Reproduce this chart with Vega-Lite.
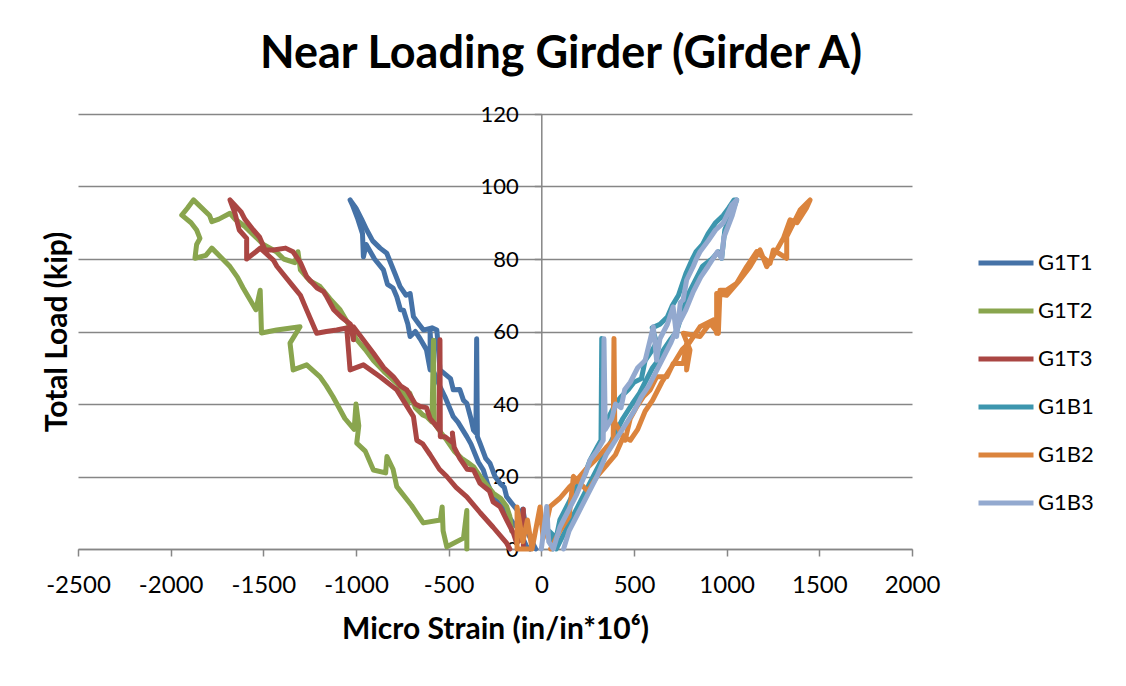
{
"$schema": "https://vega.github.io/schema/vega-lite/v6.json",
"width": 834, "height": 435,
"autosize": "none",
"padding": {"left": 78, "top": 114, "right": 214, "bottom": 137},
"background": "white",
"config": {"font": "Lato", "view": {"stroke": null}},
"title": {"text": "Near Loading Girder (Girder A)", "fontSize": 45, "fontWeight": "bold", "font": "Lato", "color": "#000", "anchor": "middle", "frame": "group", "dx": 66, "dy": 54, "offset": 44, "baseline": "alphabetic"},
"data": {"values": [
{"s":"G1T1","x":-30,"y":0},{"s":"G1T1","x":-79,"y":5},{"s":"G1T1","x":-100,"y":11},{"s":"G1T1","x":-115,"y":9.8},{"s":"G1T1","x":-150,"y":12},{"s":"G1T1","x":-187,"y":14.4},{"s":"G1T1","x":-200,"y":17},{"s":"G1T1","x":-223,"y":18.1},{"s":"G1T1","x":-250,"y":20},{"s":"G1T1","x":-277,"y":23.6},{"s":"G1T1","x":-300,"y":25},{"s":"G1T1","x":-331,"y":29.2},{"s":"G1T1","x":-345,"y":31},{"s":"G1T1","x":-349,"y":58},{"s":"G1T1","x":-353,"y":32},{"s":"G1T1","x":-366,"y":32.8},{"s":"G1T1","x":-380,"y":36},{"s":"G1T1","x":-402,"y":40.2},{"s":"G1T1","x":-420,"y":41},{"s":"G1T1","x":-440,"y":44},{"s":"G1T1","x":-475,"y":43.9},{"s":"G1T1","x":-490,"y":47},{"s":"G1T1","x":-547,"y":49.4},{"s":"G1T1","x":-555,"y":55},{"s":"G1T1","x":-564,"y":60.4},{"s":"G1T1","x":-590,"y":61},{"s":"G1T1","x":-636,"y":60.4},{"s":"G1T1","x":-660,"y":62},{"s":"G1T1","x":-690,"y":64.1},{"s":"G1T1","x":-708,"y":70.5},{"s":"G1T1","x":-730,"y":70},{"s":"G1T1","x":-762,"y":72.4},{"s":"G1T1","x":-790,"y":76},{"s":"G1T1","x":-834,"y":81.6},{"s":"G1T1","x":-870,"y":83},{"s":"G1T1","x":-910,"y":85},{"s":"G1T1","x":-942,"y":88},{"s":"G1T1","x":-970,"y":91},{"s":"G1T1","x":-1000,"y":94},{"s":"G1T1","x":-1032,"y":96.3},{"s":"G1T1","x":-1020,"y":95},{"s":"G1T1","x":-990,"y":91},{"s":"G1T1","x":-965,"y":87},{"s":"G1T1","x":-960,"y":80.6},{"s":"G1T1","x":-945,"y":84},{"s":"G1T1","x":-900,"y":80},{"s":"G1T1","x":-852,"y":77},{"s":"G1T1","x":-830,"y":73},{"s":"G1T1","x":-800,"y":72},{"s":"G1T1","x":-780,"y":69.6},{"s":"G1T1","x":-760,"y":66},{"s":"G1T1","x":-744,"y":65.9},{"s":"G1T1","x":-720,"y":62},{"s":"G1T1","x":-708,"y":58.6},{"s":"G1T1","x":-680,"y":60},{"s":"G1T1","x":-654,"y":58},{"s":"G1T1","x":-620,"y":55},{"s":"G1T1","x":-600,"y":49.4},{"s":"G1T1","x":-600,"y":60},{"s":"G1T1","x":-590,"y":50},{"s":"G1T1","x":-547,"y":44.8},{"s":"G1T1","x":-520,"y":42},{"s":"G1T1","x":-475,"y":36.5},{"s":"G1T1","x":-450,"y":35},{"s":"G1T1","x":-402,"y":31},{"s":"G1T1","x":-380,"y":29},{"s":"G1T1","x":-340,"y":24},{"s":"G1T1","x":-313,"y":21.8},{"s":"G1T1","x":-290,"y":18},{"s":"G1T1","x":-259,"y":14.4},{"s":"G1T1","x":-220,"y":12},{"s":"G1T1","x":-187,"y":9.8},{"s":"G1T1","x":-150,"y":7},{"s":"G1T1","x":-115,"y":5.2},{"s":"G1T1","x":-100,"y":3},{"s":"G1T1","x":-79,"y":0.6},{"s":"G1T1","x":-60,"y":0},
{"s":"G1T2","x":-160,"y":5},{"s":"G1T2","x":-170,"y":9},{"s":"G1T2","x":-187,"y":11.7},{"s":"G1T2","x":-220,"y":14},{"s":"G1T2","x":-259,"y":15.4},{"s":"G1T2","x":-300,"y":18},{"s":"G1T2","x":-330,"y":20},{"s":"G1T2","x":-366,"y":22.7},{"s":"G1T2","x":-400,"y":24},{"s":"G1T2","x":-430,"y":25},{"s":"G1T2","x":-470,"y":27},{"s":"G1T2","x":-510,"y":30},{"s":"G1T2","x":-540,"y":32},{"s":"G1T2","x":-578,"y":34.7},{"s":"G1T2","x":-582,"y":57.6},{"s":"G1T2","x":-590,"y":35},{"s":"G1T2","x":-618,"y":36.5},{"s":"G1T2","x":-640,"y":37},{"s":"G1T2","x":-680,"y":39},{"s":"G1T2","x":-710,"y":43},{"s":"G1T2","x":-720,"y":40},{"s":"G1T2","x":-740,"y":43},{"s":"G1T2","x":-780,"y":45.7},{"s":"G1T2","x":-850,"y":49},{"s":"G1T2","x":-906,"y":52},{"s":"G1T2","x":-950,"y":55},{"s":"G1T2","x":-1000,"y":58},{"s":"G1T2","x":-1040,"y":62},{"s":"G1T2","x":-1086,"y":66},{"s":"G1T2","x":-1140,"y":69},{"s":"G1T2","x":-1194,"y":72.4},{"s":"G1T2","x":-1250,"y":74},{"s":"G1T2","x":-1300,"y":77},{"s":"G1T2","x":-1313,"y":82},{"s":"G1T2","x":-1330,"y":79},{"s":"G1T2","x":-1390,"y":80},{"s":"G1T2","x":-1430,"y":82},{"s":"G1T2","x":-1500,"y":84},{"s":"G1T2","x":-1560,"y":87},{"s":"G1T2","x":-1600,"y":89},{"s":"G1T2","x":-1653,"y":91},{"s":"G1T2","x":-1680,"y":92.6},{"s":"G1T2","x":-1740,"y":91},{"s":"G1T2","x":-1778,"y":90.3},{"s":"G1T2","x":-1790,"y":92},{"s":"G1T2","x":-1877,"y":96.3},{"s":"G1T2","x":-1910,"y":94},{"s":"G1T2","x":-1940,"y":92.1},{"s":"G1T2","x":-1890,"y":90},{"s":"G1T2","x":-1860,"y":88},{"s":"G1T2","x":-1842,"y":85.7},{"s":"G1T2","x":-1860,"y":84},{"s":"G1T2","x":-1869,"y":80.2},{"s":"G1T2","x":-1810,"y":81},{"s":"G1T2","x":-1778,"y":83},{"s":"G1T2","x":-1720,"y":80},{"s":"G1T2","x":-1680,"y":77.9},{"s":"G1T2","x":-1640,"y":75},{"s":"G1T2","x":-1609,"y":72},{"s":"G1T2","x":-1540,"y":66},{"s":"G1T2","x":-1517,"y":71.4},{"s":"G1T2","x":-1510,"y":59.6},{"s":"G1T2","x":-1428,"y":60.4},{"s":"G1T2","x":-1302,"y":61.3},{"s":"G1T2","x":-1356,"y":56.8},{"s":"G1T2","x":-1339,"y":49.4},{"s":"G1T2","x":-1266,"y":50.8},{"s":"G1T2","x":-1194,"y":47.5},{"s":"G1T2","x":-1160,"y":45},{"s":"G1T2","x":-1124,"y":42},{"s":"G1T2","x":-1060,"y":36},{"s":"G1T2","x":-1010,"y":33},{"s":"G1T2","x":-1000,"y":40},{"s":"G1T2","x":-985,"y":34},{"s":"G1T2","x":-996,"y":29.2},{"s":"G1T2","x":-950,"y":27},{"s":"G1T2","x":-906,"y":21.8},{"s":"G1T2","x":-840,"y":21},{"s":"G1T2","x":-833,"y":25.5},{"s":"G1T2","x":-800,"y":22},{"s":"G1T2","x":-780,"y":17.2},{"s":"G1T2","x":-700,"y":12},{"s":"G1T2","x":-637,"y":7.2},{"s":"G1T2","x":-545,"y":8},{"s":"G1T2","x":-535,"y":11.6},{"s":"G1T2","x":-530,"y":5},{"s":"G1T2","x":-510,"y":0.6},{"s":"G1T2","x":-420,"y":3},{"s":"G1T2","x":-402,"y":10.6},{"s":"G1T2","x":-402,"y":0},
{"s":"G1T3","x":-97,"y":1},{"s":"G1T3","x":-97,"y":11},{"s":"G1T3","x":-110,"y":3},{"s":"G1T3","x":-133,"y":1.6},{"s":"G1T3","x":-151,"y":4.4},{"s":"G1T3","x":-187,"y":8},{"s":"G1T3","x":-223,"y":11.7},{"s":"G1T3","x":-260,"y":13},{"s":"G1T3","x":-280,"y":16},{"s":"G1T3","x":-331,"y":18.1},{"s":"G1T3","x":-366,"y":21.8},{"s":"G1T3","x":-400,"y":22},{"s":"G1T3","x":-440,"y":25},{"s":"G1T3","x":-470,"y":28},{"s":"G1T3","x":-480,"y":32},{"s":"G1T3","x":-475,"y":29.2},{"s":"G1T3","x":-520,"y":31},{"s":"G1T3","x":-545,"y":31},{"s":"G1T3","x":-547,"y":57.7},{"s":"G1T3","x":-552,"y":33},{"s":"G1T3","x":-600,"y":36},{"s":"G1T3","x":-620,"y":39},{"s":"G1T3","x":-654,"y":39.3},{"s":"G1T3","x":-680,"y":40},{"s":"G1T3","x":-726,"y":43.9},{"s":"G1T3","x":-760,"y":45},{"s":"G1T3","x":-798,"y":47.5},{"s":"G1T3","x":-850,"y":50},{"s":"G1T3","x":-906,"y":54},{"s":"G1T3","x":-950,"y":57},{"s":"G1T3","x":-1014,"y":61.3},{"s":"G1T3","x":-1014,"y":57.7},{"s":"G1T3","x":-1030,"y":62},{"s":"G1T3","x":-1080,"y":64},{"s":"G1T3","x":-1120,"y":66},{"s":"G1T3","x":-1158,"y":69.6},{"s":"G1T3","x":-1175,"y":71},{"s":"G1T3","x":-1210,"y":72},{"s":"G1T3","x":-1266,"y":75.1},{"s":"G1T3","x":-1300,"y":79},{"s":"G1T3","x":-1340,"y":82},{"s":"G1T3","x":-1380,"y":83},{"s":"G1T3","x":-1446,"y":82.5},{"s":"G1T3","x":-1491,"y":82.5},{"s":"G1T3","x":-1520,"y":86},{"s":"G1T3","x":-1554,"y":88},{"s":"G1T3","x":-1600,"y":91},{"s":"G1T3","x":-1620,"y":93},{"s":"G1T3","x":-1680,"y":96.3},{"s":"G1T3","x":-1653,"y":92.6},{"s":"G1T3","x":-1630,"y":88},{"s":"G1T3","x":-1590,"y":85.7},{"s":"G1T3","x":-1590,"y":80},{"s":"G1T3","x":-1540,"y":82},{"s":"G1T3","x":-1517,"y":83},{"s":"G1T3","x":-1446,"y":79.7},{"s":"G1T3","x":-1427,"y":78},{"s":"G1T3","x":-1338,"y":72.4},{"s":"G1T3","x":-1300,"y":70},{"s":"G1T3","x":-1266,"y":65.9},{"s":"G1T3","x":-1212,"y":59.5},{"s":"G1T3","x":-1160,"y":60},{"s":"G1T3","x":-1104,"y":60.4},{"s":"G1T3","x":-1050,"y":61},{"s":"G1T3","x":-1032,"y":49.4},{"s":"G1T3","x":-960,"y":50.8},{"s":"G1T3","x":-870,"y":47.5},{"s":"G1T3","x":-780,"y":43.9},{"s":"G1T3","x":-690,"y":36.5},{"s":"G1T3","x":-672,"y":30},{"s":"G1T3","x":-640,"y":29},{"s":"G1T3","x":-600,"y":26},{"s":"G1T3","x":-550,"y":22},{"s":"G1T3","x":-510,"y":20},{"s":"G1T3","x":-460,"y":17},{"s":"G1T3","x":-402,"y":14.4},{"s":"G1T3","x":-330,"y":10},{"s":"G1T3","x":-260,"y":6},{"s":"G1T3","x":-187,"y":1.6},{"s":"G1T3","x":-170,"y":0},
{"s":"G1B1","x":60,"y":0},{"s":"G1B1","x":40,"y":5},{"s":"G1B1","x":80,"y":3},{"s":"G1B1","x":100,"y":8},{"s":"G1B1","x":150,"y":13},{"s":"G1B1","x":200,"y":18},{"s":"G1B1","x":230,"y":20},{"s":"G1B1","x":263,"y":24.5},{"s":"G1B1","x":300,"y":28},{"s":"G1B1","x":322,"y":30},{"s":"G1B1","x":326,"y":58.1},{"s":"G1B1","x":330,"y":32},{"s":"G1B1","x":360,"y":36},{"s":"G1B1","x":400,"y":40},{"s":"G1B1","x":430,"y":42},{"s":"G1B1","x":470,"y":44},{"s":"G1B1","x":500,"y":46},{"s":"G1B1","x":540,"y":47},{"s":"G1B1","x":560,"y":52},{"s":"G1B1","x":600,"y":55},{"s":"G1B1","x":622,"y":57},{"s":"G1B1","x":598,"y":61},{"s":"G1B1","x":640,"y":62},{"s":"G1B1","x":680,"y":64},{"s":"G1B1","x":705,"y":67},{"s":"G1B1","x":740,"y":70},{"s":"G1B1","x":760,"y":73},{"s":"G1B1","x":780,"y":76},{"s":"G1B1","x":815,"y":80},{"s":"G1B1","x":835,"y":82},{"s":"G1B1","x":870,"y":84},{"s":"G1B1","x":900,"y":87},{"s":"G1B1","x":940,"y":90},{"s":"G1B1","x":981,"y":92},{"s":"G1B1","x":1010,"y":94},{"s":"G1B1","x":1040,"y":96.3},{"s":"G1B1","x":1054,"y":96.3},{"s":"G1B1","x":1030,"y":93},{"s":"G1B1","x":990,"y":88},{"s":"G1B1","x":973,"y":80.2},{"s":"G1B1","x":955,"y":82},{"s":"G1B1","x":920,"y":80},{"s":"G1B1","x":870,"y":78},{"s":"G1B1","x":830,"y":74},{"s":"G1B1","x":790,"y":70},{"s":"G1B1","x":760,"y":65},{"s":"G1B1","x":730,"y":60},{"s":"G1B1","x":700,"y":58},{"s":"G1B1","x":660,"y":55},{"s":"G1B1","x":630,"y":52},{"s":"G1B1","x":600,"y":50},{"s":"G1B1","x":560,"y":46},{"s":"G1B1","x":530,"y":43},{"s":"G1B1","x":490,"y":40},{"s":"G1B1","x":440,"y":36},{"s":"G1B1","x":400,"y":32},{"s":"G1B1","x":350,"y":27},{"s":"G1B1","x":300,"y":22},{"s":"G1B1","x":260,"y":18},{"s":"G1B1","x":220,"y":14},{"s":"G1B1","x":180,"y":10},{"s":"G1B1","x":140,"y":6},{"s":"G1B1","x":110,"y":3},{"s":"G1B1","x":80,"y":0},
{"s":"G1B2","x":-60,"y":0},{"s":"G1B2","x":-131,"y":0},{"s":"G1B2","x":-131,"y":11.6},{"s":"G1B2","x":-100,"y":2},{"s":"G1B2","x":-75,"y":8},{"s":"G1B2","x":-50,"y":0},{"s":"G1B2","x":-7,"y":11.6},{"s":"G1B2","x":10,"y":3},{"s":"G1B2","x":47,"y":11.7},{"s":"G1B2","x":100,"y":14},{"s":"G1B2","x":150,"y":17},{"s":"G1B2","x":191,"y":19},{"s":"G1B2","x":240,"y":22},{"s":"G1B2","x":300,"y":25},{"s":"G1B2","x":350,"y":28},{"s":"G1B2","x":388,"y":30},{"s":"G1B2","x":392,"y":58.1},{"s":"G1B2","x":396,"y":35},{"s":"G1B2","x":452,"y":30},{"s":"G1B2","x":480,"y":36},{"s":"G1B2","x":515,"y":39.3},{"s":"G1B2","x":550,"y":42},{"s":"G1B2","x":587,"y":43.9},{"s":"G1B2","x":622,"y":47.5},{"s":"G1B2","x":677,"y":47.5},{"s":"G1B2","x":712,"y":51.2},{"s":"G1B2","x":766,"y":51.2},{"s":"G1B2","x":784,"y":56.7},{"s":"G1B2","x":784,"y":49.4},{"s":"G1B2","x":802,"y":54.9},{"s":"G1B2","x":766,"y":59.5},{"s":"G1B2","x":856,"y":58.6},{"s":"G1B2","x":910,"y":62.3},{"s":"G1B2","x":955,"y":59.5},{"s":"G1B2","x":964,"y":71.4},{"s":"G1B2","x":1000,"y":71.4},{"s":"G1B2","x":1054,"y":73.3},{"s":"G1B2","x":1108,"y":77.9},{"s":"G1B2","x":1162,"y":82},{"s":"G1B2","x":1234,"y":78.8},{"s":"G1B2","x":1252,"y":82.5},{"s":"G1B2","x":1324,"y":80.2},{"s":"G1B2","x":1324,"y":86.2},{"s":"G1B2","x":1360,"y":89.8},{"s":"G1B2","x":1396,"y":93.5},{"s":"G1B2","x":1450,"y":96.3},{"s":"G1B2","x":1430,"y":94},{"s":"G1B2","x":1380,"y":90},{"s":"G1B2","x":1342,"y":90.8},{"s":"G1B2","x":1306,"y":85.7},{"s":"G1B2","x":1270,"y":82.5},{"s":"G1B2","x":1216,"y":77.9},{"s":"G1B2","x":1180,"y":82.5},{"s":"G1B2","x":1126,"y":77.9},{"s":"G1B2","x":1071,"y":74.2},{"s":"G1B2","x":1000,"y":70},{"s":"G1B2","x":946,"y":70.5},{"s":"G1B2","x":946,"y":59.5},{"s":"G1B2","x":928,"y":63.2},{"s":"G1B2","x":856,"y":61.3},{"s":"G1B2","x":800,"y":57},{"s":"G1B2","x":760,"y":55},{"s":"G1B2","x":700,"y":50},{"s":"G1B2","x":650,"y":46},{"s":"G1B2","x":600,"y":41},{"s":"G1B2","x":560,"y":38},{"s":"G1B2","x":520,"y":33},{"s":"G1B2","x":480,"y":30},{"s":"G1B2","x":443,"y":31},{"s":"G1B2","x":400,"y":26},{"s":"G1B2","x":350,"y":23},{"s":"G1B2","x":300,"y":20},{"s":"G1B2","x":250,"y":16},{"s":"G1B2","x":173,"y":20},{"s":"G1B2","x":150,"y":9},{"s":"G1B2","x":100,"y":5},{"s":"G1B2","x":50,"y":0},
{"s":"G1B3","x":0,"y":0},{"s":"G1B3","x":29,"y":11.7},{"s":"G1B3","x":40,"y":2},{"s":"G1B3","x":65,"y":0},{"s":"G1B3","x":100,"y":6},{"s":"G1B3","x":140,"y":10},{"s":"G1B3","x":190,"y":15},{"s":"G1B3","x":240,"y":21},{"s":"G1B3","x":263,"y":24.5},{"s":"G1B3","x":300,"y":27},{"s":"G1B3","x":334,"y":30},{"s":"G1B3","x":338,"y":58},{"s":"G1B3","x":345,"y":33},{"s":"G1B3","x":380,"y":36},{"s":"G1B3","x":400,"y":40},{"s":"G1B3","x":430,"y":39},{"s":"G1B3","x":450,"y":44},{"s":"G1B3","x":480,"y":46},{"s":"G1B3","x":520,"y":50},{"s":"G1B3","x":560,"y":52},{"s":"G1B3","x":604,"y":61.3},{"s":"G1B3","x":622,"y":52.1},{"s":"G1B3","x":640,"y":58},{"s":"G1B3","x":680,"y":62},{"s":"G1B3","x":711,"y":66.8},{"s":"G1B3","x":730,"y":58.6},{"s":"G1B3","x":750,"y":68},{"s":"G1B3","x":765,"y":68.7},{"s":"G1B3","x":784,"y":74.2},{"s":"G1B3","x":820,"y":78},{"s":"G1B3","x":838,"y":80.2},{"s":"G1B3","x":856,"y":82},{"s":"G1B3","x":900,"y":85},{"s":"G1B3","x":940,"y":88},{"s":"G1B3","x":981,"y":89.9},{"s":"G1B3","x":1027,"y":94.9},{"s":"G1B3","x":1054,"y":96.3},{"s":"G1B3","x":1030,"y":92},{"s":"G1B3","x":985,"y":86},{"s":"G1B3","x":973,"y":80.2},{"s":"G1B3","x":950,"y":82},{"s":"G1B3","x":900,"y":78},{"s":"G1B3","x":860,"y":75},{"s":"G1B3","x":820,"y":71},{"s":"G1B3","x":780,"y":66},{"s":"G1B3","x":740,"y":62},{"s":"G1B3","x":700,"y":57},{"s":"G1B3","x":660,"y":53},{"s":"G1B3","x":620,"y":49},{"s":"G1B3","x":580,"y":45},{"s":"G1B3","x":540,"y":42},{"s":"G1B3","x":500,"y":38},{"s":"G1B3","x":450,"y":34},{"s":"G1B3","x":400,"y":30},{"s":"G1B3","x":350,"y":26},{"s":"G1B3","x":300,"y":20},{"s":"G1B3","x":250,"y":15},{"s":"G1B3","x":200,"y":10},{"s":"G1B3","x":150,"y":5},{"s":"G1B3","x":120,"y":0}
]},
"mark": {"type": "line", "strokeWidth": 5, "strokeCap": "round", "strokeJoin": "round"},
"encoding": {
  "x": {"field": "x", "type": "quantitative",
    "scale": {"domain": [-2500, 2000], "nice": false, "zero": false},
    "axis": {"values": [-2500, -2000, -1500, -1000, -500, 0, 500, 1000, 1500, 2000], "labelExpr": "datum.value + ''", "grid": false,
      "title": "Micro Strain (in/in*10⁶)", "titleFont": "Lato", "titleFontSize": 30, "titleFontWeight": "bold", "titleColor": "#000", "titlePadding": 17,
      "labelFont": "Lato", "labelFontSize": 24, "labelColor": "#000", "labelPadding": 17, "labelFlush": false,
      "domainColor": "#868686", "domainWidth": 1.5, "tickColor": "#868686", "tickWidth": 1.5, "tickSize": 7}},
  "y": {"field": "y", "type": "quantitative",
    "scale": {"domain": [0, 120], "nice": false},
    "axis": {"values": [0, 20, 40, 60, 80, 100, 120], "labelExpr": "datum.value + ''", "offset": -463.3,
      "grid": true, "gridColor": "#868686", "gridWidth": 1.5,
      "domainColor": "#868686", "domainWidth": 1.5, "tickColor": "#868686", "tickWidth": 1.5, "tickSize": 7,
      "labelFont": "Lato", "labelFontSize": 22, "labelColor": "#000", "labelPadding": 16, "labelFlush": false,
      "title": "Total Load (kip)", "titleFont": "Lato", "titleFontSize": 30, "titleFontWeight": "bold", "titleColor": "#000",
      "titleX": -484, "titleY": 217.5, "titleAngle": -90, "titleBaseline": "middle", "titleAlign": "center"}},
  "color": {"field": "s", "type": "nominal",
    "scale": {"domain": ["G1T1", "G1T2", "G1T3", "G1B1", "G1B2", "G1B3"], "range": ["#4572A7", "#89A54E", "#AA4643", "#3D96AE", "#DB843D", "#93A9CF"]},
    "legend": {"title": null, "orient": "none", "legendX": 898, "legendY": 119, "symbolType": "stroke", "symbolSize": 3025, "symbolStrokeWidth": 5,
      "labelFont": "Lato", "labelFontSize": 22, "labelColor": "#000", "rowPadding": 7, "labelOffset": 2, "padding": 0}},
  "order": {"value": null}
}
}
